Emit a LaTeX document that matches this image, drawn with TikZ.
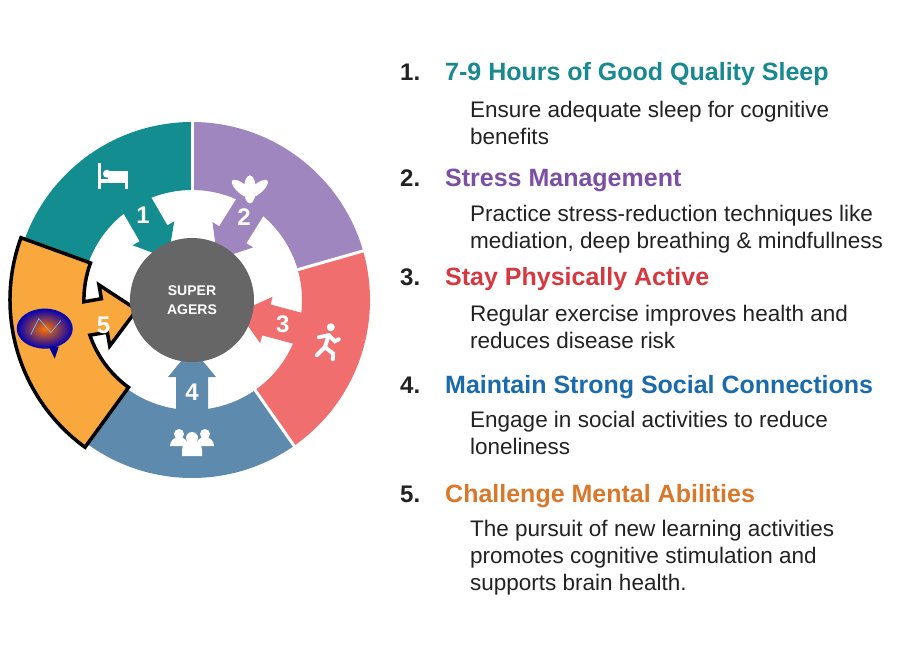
\documentclass[tikz,border=0pt]{standalone}
\usepackage{fontspec}
\setmainfont{Liberation Sans}
\usetikzlibrary{calc}
\definecolor{cTeal}{HTML}{138D90}
\definecolor{cPurple}{HTML}{A086BF}
\definecolor{cRed}{HTML}{F06E6E}
\definecolor{cBlue}{HTML}{5E8AAE}
\definecolor{cOrange}{HTML}{F9A83E}
\definecolor{cGray}{HTML}{666666}
\definecolor{tTeal}{HTML}{17898F}
\definecolor{tPurple}{HTML}{7B4FA3}
\definecolor{tRed}{HTML}{D7383F}
\definecolor{tBlue}{HTML}{1A6BAE}
\definecolor{tOrange}{HTML}{D9782A}
\definecolor{tText}{HTML}{222222}

\begin{document}
\begin{tikzpicture}[x=1pt,y=1pt,
  numlabel/.style={text=tText,font=\fontsize{24}{28}\selectfont\bfseries,anchor=base west,inner sep=0},
  titlelabel/.style={font=\fontsize{25}{28}\selectfont\bfseries,anchor=base west,inner sep=0},
  bodytext/.style={text=tText,font=\fontsize{22.5}{27}\selectfont,anchor=north west,align=left,inner sep=0},
  ringnum/.style={text=white,font=\fontsize{24}{24}\selectfont\bfseries}]
\useasboundingbox (0,0) rectangle (899,646);

% Ring
\begin{scope}[shift={(192,346)}]
\foreach \a/\b/\col in {90/160/cTeal,16/90/cPurple,-55/16/cRed,-126/-55/cBlue}
  \fill[\col] (\a:178) arc[start angle=\a,end angle=\b,radius=178] -- (\b:110) arc[start angle=\b,end angle=\a,radius=110] -- cycle;
\foreach \a in {90,16,-55}
  \draw[white,line width=3pt] (\a:108) -- (\a:180);

% Arrows into the centre
\foreach \ang/\col in {120/cTeal,58/cPurple,-15/cRed,-90/cBlue}
  \fill[\col,rotate=\ang] (120,-16) -- (77,-16) -- (77,-24) -- (48,0) -- (77,24) -- (77,16) -- (120,16) -- cycle;

% Highlighted segment 5
\begin{scope}[rotate=190]
\filldraw[cOrange,draw=black,line width=3.5pt,line join=miter]
  (-30:182) arc[start angle=-30,end angle=44,radius=182] -- (44:108)
  arc[start angle=44,end angle=9,radius=108] -- (89,17) -- (89,31) -- (56,0) -- (89,-31) -- (89,-17) -- (106.7,-17)
  arc[start angle=-9,end angle=-30,radius=108] -- cycle;
\end{scope}

% Centre
\node[circle,fill=cGray,minimum size=124pt,inner sep=0,text=white,align=center,font=\fontsize{14}{19}\selectfont\bfseries] (core) at (0,0) {SUPER\\AGERS};

\node[ringnum] (n1) at (120:98) {1};
\node[ringnum] (n2) at (58:98) {2};
\node[ringnum] (n3) at (-15:94) {3};
\node[ringnum] (n4) at (-90:92) {4};
\node[ringnum] (n5) at (196:92) {5};

% Icons
\begin{scope}[shift={(123:147)},white]
\fill (-14,-12) rectangle (-11,14);
\fill (-14,-6) rectangle (16,-2);
\fill (13,-12) rectangle (16,4);
\fill (-4,-2) rectangle (16,6) ;
\fill (-5,3) circle (4);
\end{scope}
\begin{scope}[shift={(64:132)},white]
\fill (0,-8) ellipse (6 and 14);
\fill[rotate around={50:(0,-14)}] (0,-4) ellipse (5 and 13);
\fill[rotate around={-50:(0,-14)}] (0,-4) ellipse (5 and 13);
\end{scope}
\begin{scope}[shift={(-17:141)},white,line width=4pt,line cap=round]
\fill (4,14) circle (4);
\draw (2,6) -- (-2,-6) -- (6,-12) -- (6,-18);
\draw (-2,-6) -- (-10,-14);
\draw (-8,4) -- (2,6) -- (8,0) -- (12,2);
\end{scope}
\begin{scope}[shift={(-90:140)},white]
\fill (-13,6) circle (5); \fill (13,6) circle (5); \fill (0,2) circle (6);
\fill (-22,-6) arc[start angle=180,end angle=0,radius=9] -- cycle;
\fill (4,-6) arc[start angle=180,end angle=0,radius=9] -- cycle;
\fill (-10,-16) -- (-10,-10) arc[start angle=180,end angle=0,radius=10] -- (10,-16) -- cycle;
\end{scope}
\begin{scope}[shift={(191:150)}]
\shade[inner color=orange!90!red,outer color=blue!70!black] (0,0) ellipse (28 and 20);
\draw[cyan!60,line width=0.6pt] (-14,-6) -- (-6,10) -- (6,-4) -- (16,8);
\fill[blue!60!black] (4,-18) -- (10,-30) -- (14,-18) -- cycle;
\end{scope}
\end{scope}

% List
\foreach \k/\y/\col/\ttl in {
  1/565/tTeal/{7-9 Hours of Good Quality Sleep},
  2/459/tPurple/{Stress Management},
  3/360/tRed/{Stay Physically Active},
  4/253/tBlue/{Maintain Strong Social Connections},
  5/144/tOrange/{Challenge Mental Abilities}} {
  \node[numlabel] (num\k) at (400,\y) {\k.};
  \node[titlelabel,text=\col] (title\k) at (445,\y) {\ttl};
}
\node[bodytext] (body1) at (470,545) {Ensure adequate sleep for cognitive\\benefits};
\node[bodytext] (body2) at (470,441) {Practice stress-reduction techniques like\\mediation, deep breathing \& mindfullness};
\node[bodytext] (body3) at (470,341) {Regular exercise improves health and\\reduces disease risk};
\node[bodytext] (body4) at (470,235) {Engage in social activities to reduce\\loneliness};
\node[bodytext] (body5) at (470,126) {The pursuit of new learning activities\\promotes cognitive stimulation and\\supports brain health.};
\end{tikzpicture}
\end{document}
